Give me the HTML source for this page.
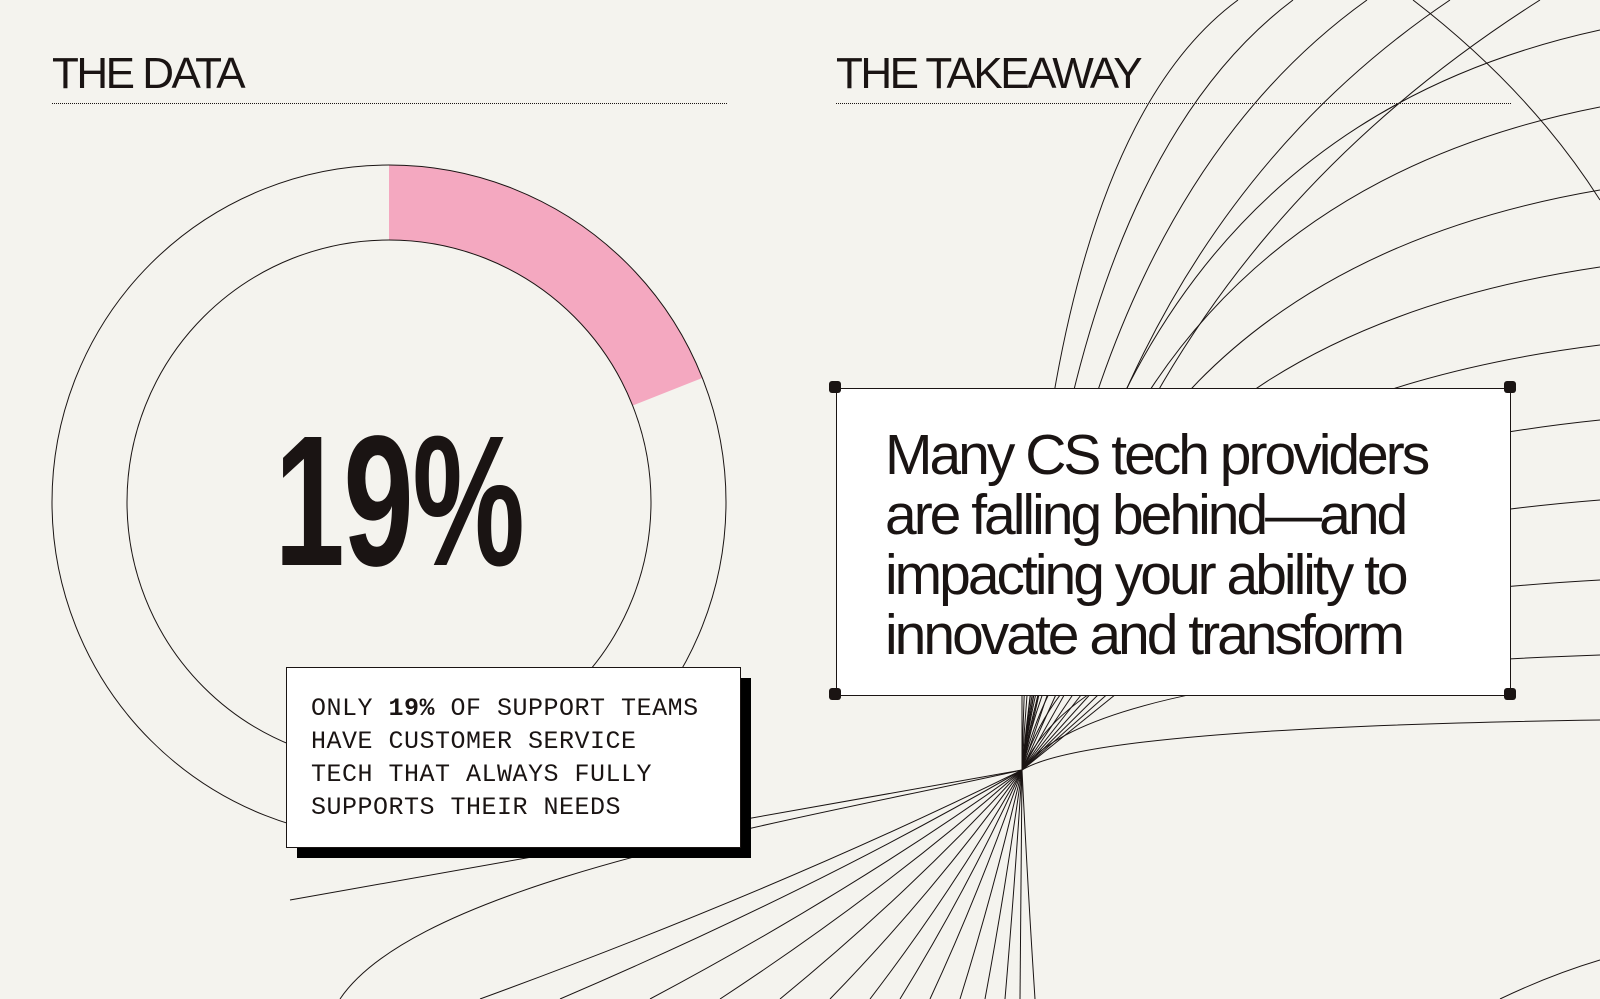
<!DOCTYPE html>
<html><head><meta charset="utf-8">
<style>
html,body{margin:0;padding:0;overflow:hidden;width:1600px;height:999px;}
body{background:#f4f3ee;position:relative;font-family:"Liberation Sans",sans-serif;color:#1a1413;}
svg{position:absolute;left:0;top:0;}
.h{position:absolute;top:50px;font-size:44px;letter-spacing:-2.5px;line-height:48px;}
.dot{position:absolute;top:103px;height:0;border-top:1.5px dotted #1a1413;}
.big{position:absolute;left:220px;top:392px;width:340px;text-align:center;font-size:186px;font-weight:bold;line-height:220px;transform:scaleX(0.68);transform-origin:170px 110px;letter-spacing:-2px;}
.tk{position:absolute;left:836px;top:388px;width:673px;height:306px;background:#fff;border:1px solid #1a1413;}
.tk p{margin:0;position:absolute;left:48px;top:36px;font-size:57px;line-height:60px;letter-spacing:-3px;white-space:nowrap;}
.c{position:absolute;width:12px;height:12px;background:#1a1413;border-radius:3px;}
.sb{position:absolute;left:297px;top:678px;width:454px;height:180px;background:#000;}
.nb{position:absolute;left:286px;top:667px;width:453px;height:179px;background:#fff;border:1px solid #1a1413;}
.nb p{margin:0;position:absolute;left:24px;top:24px;font-family:"Liberation Mono",monospace;font-size:25px;line-height:33px;letter-spacing:0.5px;white-space:nowrap;}
</style></head><body>
<svg id="deco" width="1600" height="999"></svg>
<svg id="donut" width="1600" height="999"></svg>
<div class="h" style="left:52px">THE DATA</div>
<div class="dot" style="left:52px;width:675px"></div>
<div class="h" style="left:836px">THE TAKEAWAY</div>
<div class="dot" style="left:836px;width:675px"></div>
<div class="big" id="bigval">19%</div>
<div class="tk"><p>Many CS tech providers<br>are falling behind—and<br>impacting your ability to<br>innovate and transform</p></div>
<div class="c" style="left:829px;top:381px"></div>
<div class="c" style="left:1504px;top:381px"></div>
<div class="c" style="left:829px;top:688px"></div>
<div class="c" style="left:1504px;top:688px"></div>
<div class="sb"></div>
<div class="nb"><p>ONLY <b>19%</b> OF SUPPORT TEAMS<br>HAVE CUSTOMER SERVICE<br>TECH THAT ALWAYS FULLY<br>SUPPORTS THEIR NEEDS</p></div>
<script>
const shareValues = [19];
const shareLabels = ["Supported"];
const NS = "http://www.w3.org/2000/svg";
const d = document.getElementById('donut');
const cx = 389, cy = 502, ro = 337, ri = 262;
function pt(r, frac){const a = frac*2*Math.PI; return [cx + r*Math.sin(a), cy - r*Math.cos(a)];}
const f = shareValues[0]/100;
const p1 = pt(ro,0), p2 = pt(ro,f), p3 = pt(ri,f), p4 = pt(ri,0);
const large = f > 0.5 ? 1 : 0;
const seg = document.createElementNS(NS,'path');
seg.setAttribute('d', `M${p1[0]},${p1[1]} A${ro},${ro} 0 ${large} 1 ${p2[0]},${p2[1]} L${p3[0]},${p3[1]} A${ri},${ri} 0 ${large} 0 ${p4[0]},${p4[1]} Z`);
seg.setAttribute('fill','#f4a8c0');


d.appendChild(seg);
[ro, ri].forEach(r=>{
  const c = document.createElementNS(NS,'circle');
  c.setAttribute('cx',cx); c.setAttribute('cy',cy); c.setAttribute('r',r);
  c.setAttribute('fill','none'); c.setAttribute('stroke','#1a1413'); c.setAttribute('stroke-width','1');
  
  
  d.appendChild(c);
});
document.getElementById('bigval').textContent = shareValues[0] + '%';
const g = document.getElementById('deco');
const fx = 1022, fy = 770;
const ends = [[1238,0],[1293,0],[1367,0],[1450,0],[1540,0],[1600,30],[1600,107],[1600,190],[1600,267],[1600,345],[1600,420],[1600,500],[1600,580],[1600,655],[1600,720]];
const lowEnds = [480,560,650,720,780,830,870,900,930,960,985,1005,1020,1035];
function line(dd){
  const p = document.createElementNS(NS,'path');
  p.setAttribute('d', dd); p.setAttribute('fill','none'); p.setAttribute('stroke','#1a1413'); p.setAttribute('stroke-width','1');
  
  
  g.appendChild(p);
}
ends.forEach(([ex,ey],i)=>{
  let qx, qy;
  if (ey === 0) { qx = fx + 12 + i*20; qy = 150 + i*30; }
  else { qx = fx + (ex-fx)*0.12; qy = ey + (fy-ey)*0.15; }
  line(`M${fx},${fy} Q${qx},${qy} ${ex},${ey}`);
});
lowEnds.forEach(x=>{ line(`M${fx},${fy} Q${fx-(fx-x)*0.45},${fy+120} ${x},999`); });
for (let k=0;k<12;k++){ line(`M${fx},${fy} L${fx + k*9},${fy-80}`); }
line(`M${fx},${fy} L290,900`);
line(`M${fx},${fy} C800,820 420,880 340,999`);
line('M1413,0 Q1530,90 1600,200');
line('M1500,999 Q1550,975 1600,960');
</script>
</body></html>
